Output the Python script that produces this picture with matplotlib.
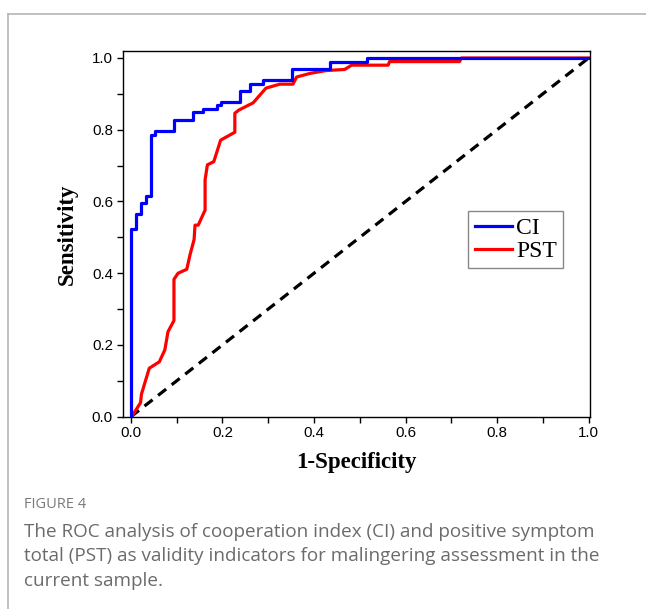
import matplotlib
matplotlib.use("Agg")
import matplotlib.pyplot as plt
from matplotlib.lines import Line2D

# ROC curve vertices
ci_fpr = [0, 0, 0.011, 0.011, 0.021, 0.021, 0.033, 0.033, 0.043, 0.043, 0.052, 0.052,
          0.094, 0.094, 0.135, 0.135, 0.157, 0.157, 0.187, 0.187, 0.196, 0.196,
          0.238, 0.238, 0.26, 0.26, 0.289, 0.289, 0.352, 0.352, 0.434, 0.434,
          0.516, 0.516, 1.0]
ci_tpr = [0, 0.523, 0.523, 0.564, 0.564, 0.595, 0.595, 0.615, 0.615, 0.785, 0.785, 0.796,
          0.796, 0.827, 0.827, 0.849, 0.849, 0.857, 0.857, 0.869, 0.869, 0.878,
          0.878, 0.908, 0.908, 0.928, 0.928, 0.938, 0.938, 0.968, 0.968, 0.988,
          0.988, 1.0, 1.0]

pst_fpr = [0.004, 0.021, 0.023, 0.040, 0.062, 0.074, 0.081, 0.094, 0.094, 0.103, 0.122,
           0.129, 0.138, 0.140, 0.147, 0.162, 0.162, 0.167, 0.181, 0.196, 0.227,
           0.227, 0.236, 0.267, 0.295, 0.325, 0.354, 0.362, 0.391, 0.427, 0.467,
           0.482, 0.562, 0.565, 0.718, 0.722, 1.0]
pst_tpr = [0.005, 0.039, 0.063, 0.135, 0.153, 0.186, 0.237, 0.268, 0.383, 0.400, 0.411,
           0.451, 0.494, 0.534, 0.534, 0.576, 0.660, 0.702, 0.711, 0.771, 0.793,
           0.846, 0.855, 0.875, 0.916, 0.927, 0.927, 0.947, 0.957, 0.965, 0.968,
           0.980, 0.980, 0.990, 0.990, 1.0, 1.0]

ref_line = [0, 1]

fig = plt.figure(figsize=(6.46, 6.09), dpi=100)

# panel frame (top and left edges)
fig.add_artist(Line2D([8/646, 8/646], [0, 1 - 14/609], transform=fig.transFigure,
                      color='#b5b5b5', lw=1.2))
fig.add_artist(Line2D([8/646, 1], [1 - 14/609, 1 - 14/609], transform=fig.transFigure,
                      color='#b5b5b5', lw=1.2))

ax = fig.add_axes([122.7/646, 1 - 416.7/609, (590 - 122.7)/646, (416.7 - 51)/609])

ax.plot(ref_line, ref_line, color='black', lw=2.3, ls=(0, (3.2, 2.2)), zorder=1)
ax.plot(pst_fpr, pst_tpr, color='#ff0000', lw=2.3, label='PST', zorder=2)
ax.plot(ci_fpr, ci_tpr, color='#0000ff', lw=2.3, label='CI', zorder=3)

ax.set_xlim(-0.018, 1.003)
ax.set_ylim(0, 1.0195)
ax.set_xticks([0, 0.2, 0.4, 0.6, 0.8, 1.0])
ax.set_yticks([0, 0.2, 0.4, 0.6, 0.8, 1.0])
ax.set_xticks([0.1, 0.3, 0.5, 0.7, 0.9], minor=True)
ax.set_yticks([0.1, 0.3, 0.5, 0.7, 0.9], minor=True)
ax.xaxis.set_major_formatter(plt.FormatStrFormatter('%.1f'))
ax.yaxis.set_major_formatter(plt.FormatStrFormatter('%.1f'))
ax.tick_params(which='both', direction='out', length=4, width=1, labelsize=10.8,
               top=False, right=False, pad=3)
for lab in ax.get_xticklabels() + ax.get_yticklabels():
    lab.set_family('Liberation Sans')
for sp in ax.spines.values():
    sp.set_linewidth(1)

ax.set_xlabel('1-Specificity', family='Liberation Serif', fontweight='bold',
              fontsize=16.5, labelpad=8)
ax.set_ylabel('Sensitivity', family='Liberation Serif', fontweight='bold',
              fontsize=16.5, labelpad=10)

h, l = ax.get_legend_handles_labels()
leg = ax.legend(h[::-1], l[::-1], loc='upper left', bbox_to_anchor=(0.739, 0.5625),
                borderaxespad=0, fancybox=False, edgecolor='#888888', framealpha=1,
                prop={'family': 'Liberation Serif', 'size': 17},
                handlelength=1.6, handletextpad=0.15, labelspacing=0.05,
                borderpad=0.28)
leg.get_frame().set_linewidth(1)

# caption
fig.text(24/646, 1 - 505/609, 'FIGURE 4', family='Open Sans', fontsize=10.5,
         color='#7a7a7a', va='center', ha='left')
caption = ("The ROC analysis of cooperation index (CI) and positive symptom\n"
           "total (PST) as validity indicators for malingering assessment in the\n"
           "current sample.")
fig.text(24/646, 1 - 523/609, caption, family='Open Sans', fontsize=13.55,
         color='#6b6b6b', va='top', ha='left', linespacing=1.46)

fig.savefig('out.png', dpi=100)
